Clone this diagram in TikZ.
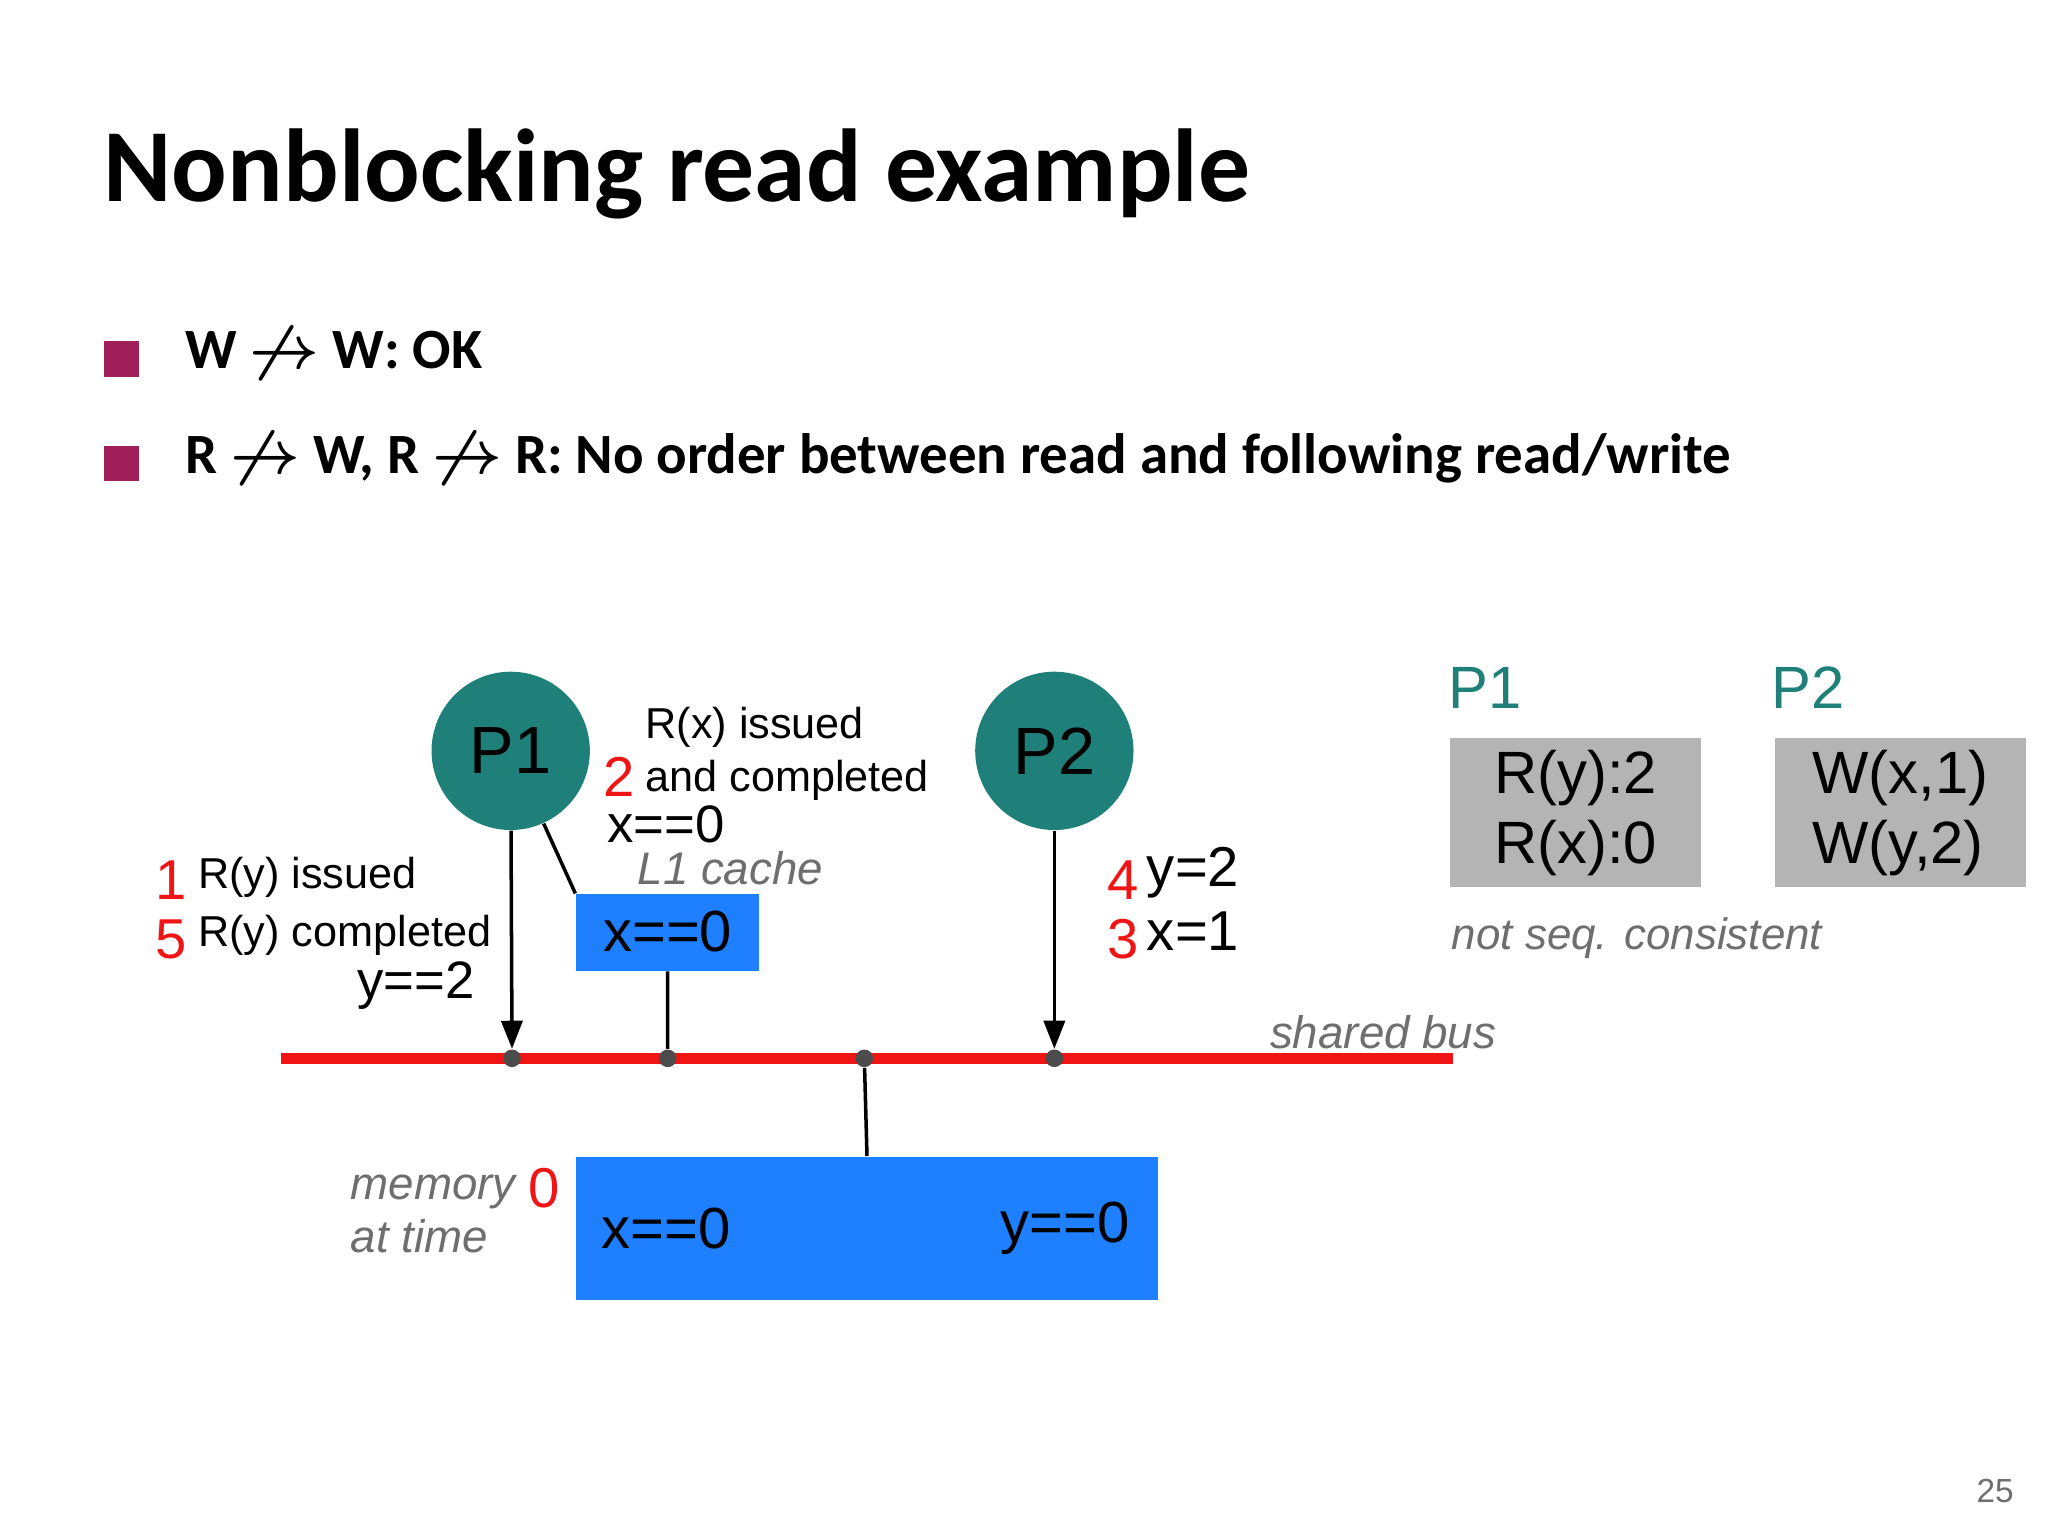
\documentclass[tikz,border=0pt]{standalone}
\usepackage{fontspec}
\setmainfont{Liberation Sans}
\newfontfamily\titlefont{Carlito}
\usetikzlibrary{arrows.meta}
\definecolor{teal1}{RGB}{30,128,120}
\definecolor{blue1}{RGB}{30,128,255}
\definecolor{red1}{RGB}{240,20,20}
\definecolor{bullet1}{RGB}{160,30,90}
\definecolor{gray1}{RGB}{180,180,180}
\definecolor{txtgray}{RGB}{110,110,110}
\newcommand\nordto{\mbox{\boldmath$\not\rightarrow$}}
\begin{document}
\begin{tikzpicture}[x=0.013196cm,y=-0.013196cm,
  proc/.style={circle,fill=teal1,minimum size=1.5835cm,inner sep=0pt,font=\fontsize{19}{19}\selectfont},
  box/.style={fill=blue1,inner sep=0pt,anchor=north west},
  lbl/.style={font=\fontsize{12.3}{14}\selectfont,inner sep=1pt},
  big/.style={font=\fontsize{16.5}{16.5}\selectfont,inner sep=1pt},
  num/.style={text=red1,font=\fontsize{16}{16}\selectfont,inner sep=1pt},
  ital/.style={text=txtgray,font=\itshape\fontsize{13}{15}\selectfont,inner sep=1pt},
  dot/.style={circle,fill=black!70,inner sep=0pt,minimum size=5pt},
  res/.style={fill=gray1,minimum width=2.507cm,minimum height=1.491cm,align=left,font=\fontsize{17}{20}\selectfont,inner sep=0pt},
  arr/.style={-{Triangle[length=8pt,width=6pt]},line width=1pt}]
\useasboundingbox (0,0) rectangle (1552,1164);
% title and bullets
\node[anchor=west,font=\titlefont\bfseries\fontsize{29.5}{29.5}\selectfont,inner sep=0pt] (title) at (78,132) {Nonblocking read example};
\node[fill=bullet1,minimum size=10pt,inner sep=0pt] (b1) at (92,272) {};
\node[fill=bullet1,minimum size=10pt,inner sep=0pt] (b2) at (92,351) {};
\node[anchor=west,font=\titlefont\bfseries\fontsize{16.2}{16.2}\selectfont,inner sep=0pt] (t1) at (140,268) {W \nordto{} W: OK};
\node[anchor=west,font=\titlefont\bfseries\fontsize{16.2}{16.2}\selectfont,inner sep=0pt] (t2) at (140,347) {R \nordto{} W, R \nordto{} R: No order between read and following read/write};
% processors
\node[proc] (p1) at (387,569) {P1};
\node[proc] (p2) at (799,569) {P2};
% bus
\coordinate (busl) at (213,802);
\coordinate (busr) at (1101,802);
\draw[red1,line width=3pt] (busl) -- (busr);
\node[dot] (d1) at (388,802) {};
\node[dot] (d2) at (506,802) {};
\node[dot] (d3) at (655,802) {};
\node[dot] (d4) at (799,802) {};
% cache and memory
\node[box,minimum width=1.834cm,minimum height=0.765cm] (cache) at (436,677) {};
\node[big] (cx) at (506,706) {x==0};
\node[box,minimum width=5.82cm,minimum height=1.438cm] (mem) at (436,876) {};
\node[big] (mx) at (505,931) {x==0};
\node[big] (my) at (807,931) {y==0};
% connectors
\draw[arr] (p1) -- (d1.north);
\draw[arr] (p2) -- (d4.north);
\draw[line width=1pt] (cache.south) -- (d2);
\draw[line width=1pt] (d3) -- (mem.north);
\draw[line width=1pt] (p1) -- (cache.north west);
% labels
\node[ital,anchor=west] (l1) at (480,658) {L1 cache};
\node[ital,anchor=east] (sb) at (1137,782) {shared bus};
\node[ital,anchor=east,align=left] (mt) at (394,920) {memory\\at time};
\node[num] (m0) at (412,900) {0};
\node[lbl,anchor=west] (rx) at (486,551) {R(x) issued};
\node[num] (n2) at (469,589) {2};
\node[lbl,anchor=west] (rx2) at (486,591) {and completed};
\node[lbl,anchor=west,font=\fontsize{15}{15}\selectfont] (xe) at (457,625) {x==0};
\node[num] (n1) at (130,667) {1};
\node[lbl,anchor=west] (ry) at (147,665) {R(y) issued};
\node[num] (n5) at (130,712) {5};
\node[lbl,anchor=west] (ry2) at (147,709) {R(y) completed};
\node[lbl,anchor=east,font=\fontsize{15}{15}\selectfont] (ye) at (363,747) {y==2};
\node[num] (n4) at (851,667) {4};
\node[lbl,anchor=west,font=\fontsize{16}{16}\selectfont] (y2) at (866,661) {y=2};
\node[num] (n3) at (851,712) {3};
\node[lbl,anchor=west,font=\fontsize{16}{16}\selectfont] (x1) at (866,706) {x=1};
% results
\node[text=teal1,anchor=west,font=\fontsize{17}{17}\selectfont,inner sep=0pt] (h1) at (1097,521) {P1};
\node[text=teal1,anchor=west,font=\fontsize{17}{17}\selectfont,inner sep=0pt] (h2) at (1342,521) {P2};
\node[res] (r1) at (1194,616) {R(y):2\\R(x):0};
\node[res] (r2) at (1440,616) {W(x,1)\\W(y,2)};
\node[ital,anchor=west,font=\itshape\fontsize{12.5}{12.5}\selectfont] (nsc) at (1097,711) {not seq. consistent};
\node[text=txtgray,font=\fontsize{9.5}{9.5}\selectfont] (pg) at (1512,1130) {25};
\end{tikzpicture}
\end{document}
